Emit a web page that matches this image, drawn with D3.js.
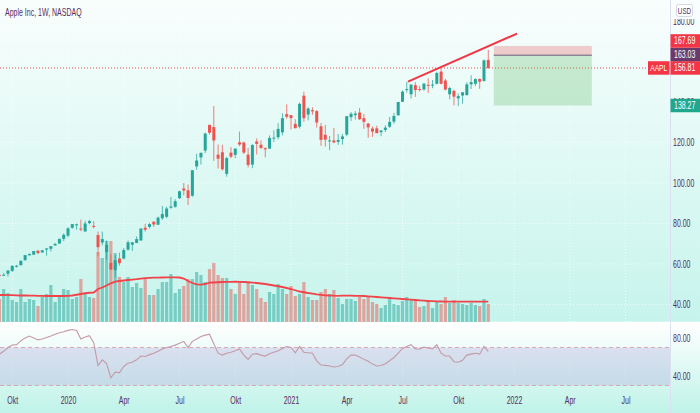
<!DOCTYPE html>
<html>
<head>
<meta charset="utf-8">
<script src="https://cdnjs.cloudflare.com/ajax/libs/d3/7.8.5/d3.min.js"></script>
<style>
  html, body { margin: 0; padding: 0; background: #fff; }
  svg { display: block; font-family: "Liberation Sans", Arial, sans-serif; }
</style>
</head>
<body>
<svg width="700" height="413"></svg>
<script>
// weekly bars, Monday of the first and last week
const firstWeek = "2019-09-16";
const lastWeek = "2021-11-22";

const open = [54.6, 54.7, 55.2, 56.6, 58.7, 59.4, 61.9, 64.3, 64.6, 66.5,
  65.7, 67.1, 67.5, 69.2, 70.1, 72.4, 74.0, 77.9, 79.3, 77.5,
  76.1, 80.2, 78.8, 74.3, 70.6, 65.9, 60.5, 57.0, 62.7, 62.7,
  67.1, 69.5, 70.4, 71.6, 77.9, 78.3, 80.9, 79.4, 82.6, 83.3,
  87.8, 88.3, 92.5, 97.3, 96.4, 93.7, 108.2, 112.6, 116.0, 128.7,
  127.6, 114.0, 115.2, 104.5, 115.0, 113.9, 120.1, 120.0, 114.0, 109.1,
  120.5, 118.9, 117.2, 117.0, 122.3, 122.6, 125.0, 134.0, 133.5, 129.2,
  127.8, 143.1, 133.8, 136.0, 135.5, 128.0, 123.8, 120.9, 121.0, 120.3,
  121.7, 123.9, 132.5, 133.5, 134.8, 132.0, 129.4, 126.9, 127.0, 125.1,
  126.2, 127.8, 130.3, 133.4, 140.1, 146.2, 143.8, 148.3, 146.4, 146.2,
  148.5, 148.3, 149.0, 155.0, 150.6, 143.8, 145.5, 141.8, 143.2, 143.4,
  148.7, 149.0, 151.4, 150.4, 160.8];
const high = [55.9, 55.6, 56.9, 59.4, 59.5, 61.7, 64.4, 65.1, 66.4, 67.0,
  66.8, 67.7, 68.8, 70.4, 72.5, 75.1, 78.2, 79.7, 80.0, 81.9,
  81.3, 81.8, 81.2, 76.0, 76.0, 71.6, 64.8, 64.6, 65.6, 67.9,
  71.6, 70.8, 73.6, 77.6, 79.9, 80.2, 81.1, 83.4, 88.7, 88.3,
  93.1, 92.0, 96.3, 100.0, 99.2, 106.4, 114.4, 115.0, 124.9, 128.8,
  138.0, 119.0, 118.8, 112.9, 117.7, 117.0, 125.4, 120.4, 117.3, 119.2,
  122.0, 121.0, 117.6, 123.5, 126.0, 129.6, 134.4, 138.8, 133.6, 131.5,
  139.7, 145.1, 137.4, 137.4, 136.0, 129.7, 128.7, 123.2, 127.2, 124.2,
  124.2, 133.0, 135.0, 135.5, 137.1, 134.1, 129.5, 127.9, 128.3, 126.2,
  128.5, 132.6, 134.6, 140.0, 145.7, 150.0, 148.7, 149.8, 148.0, 149.1,
  151.7, 150.9, 155.0, 157.3, 151.4, 147.5, 146.0, 144.2, 144.9, 149.8,
  153.2, 151.6, 151.6, 161.0, 165.7];
const low = [54.4, 54.2, 53.8, 56.1, 58.3, 59.3, 61.6, 64.2, 64.6, 64.9,
  65.6, 64.1, 66.2, 68.9, 70.1, 71.3, 73.2, 77.4, 77.0, 76.2,
  75.8, 79.6, 77.6, 64.1, 69.2, 62.0, 57.0, 53.2, 59.2, 62.3,
  66.6, 66.4, 70.3, 71.6, 76.0, 77.5, 78.3, 79.3, 81.8, 82.6,
  87.3, 87.8, 92.1, 93.9, 89.1, 93.2, 106.5, 109.1, 114.8, 123.9,
  110.9, 107.1, 106.1, 103.1, 112.2, 112.3, 118.2, 114.3, 107.7, 107.3,
  114.1, 116.8, 112.6, 116.8, 120.2, 121.5, 123.5, 131.7, 126.4, 126.9,
  126.9, 130.2, 130.9, 133.7, 127.4, 118.4, 118.0, 116.2, 119.7, 118.9,
  118.9, 123.1, 130.6, 131.3, 131.1, 126.7, 122.3, 122.8, 124.6, 123.1,
  125.2, 127.2, 129.2, 133.4, 140.0, 144.6, 141.7, 142.5, 145.2, 145.6,
  144.5, 146.8, 148.6, 148.7, 145.8, 141.3, 138.3, 138.0, 139.2, 143.2,
  146.4, 147.8, 146.5, 150.1, 156.4];
const close = [54.4, 54.7, 56.75, 59.05, 59.1, 61.6, 64.4, 65.0, 66.4, 65.4,
  66.8, 67.7, 68.8, 69.9, 72.4, 74.4, 77.6, 79.7, 79.6, 77.4,
  80.0, 81.2, 78.3, 68.3, 72.3, 69.5, 57.3, 61.9, 60.4, 66.9,
  70.7, 70.7, 72.3, 77.5, 76.9, 79.7, 79.5, 82.9, 84.7, 87.4,
  88.4, 91.0, 95.9, 96.3, 92.6, 106.3, 111.1, 114.9, 124.4, 124.8,
  121.0, 112.0, 106.8, 112.3, 113.0, 117.0, 119.0, 115.0, 108.9, 118.7,
  119.3, 117.3, 116.6, 122.25, 122.4, 126.7, 132.0, 132.7, 132.05, 127.1,
  139.1, 132.0, 136.8, 135.4, 129.9, 121.3, 121.4, 121.03, 120.0, 121.2,
  123.0, 133.0, 134.2, 134.3, 131.5, 130.2, 127.45, 125.4, 124.6, 125.9,
  127.35, 130.15, 133.1, 140.0, 145.1, 146.4, 148.6, 145.9, 146.1, 149.1,
  148.2, 148.6, 154.3, 149.0, 146.1, 146.9, 142.65, 142.9, 144.8, 148.7,
  149.8, 151.3, 150.0, 160.55, 156.81];
// weekly volume, millions of shares
const volume = [460, 660, 580, 440, 400, 660, 400, 460, 440, 320,
  500, 560, 740, 400, 500, 660, 640, 460, 500, 860,
  580, 500, 480, 1400, 1280, 1620, 1620, 1380, 900, 800,
  900, 700, 780, 680, 860, 540, 540, 660, 800, 800,
  960, 580, 660, 720, 860, 860, 1000, 940, 800, 1060,
  1180, 940, 880, 880, 660, 560, 800, 560, 800, 740,
  660, 480, 400, 600, 560, 760, 660, 560, 720, 520,
  560, 800, 500, 440, 440, 600, 660, 560, 640, 480,
  360, 460, 460, 420, 500, 460, 500, 400, 360, 280,
  340, 460, 360, 340, 420, 500, 440, 420, 300, 320,
  440, 280, 400, 360, 500, 380, 440, 380, 360, 340,
  380, 340, 320, 460, 360];
const volumeMA = [540, 540, 538, 536, 534, 530, 530, 528, 526, 524,
  522, 520, 520, 520, 520, 520, 522, 530, 545, 560,
  575, 585, 590, 660, 690, 730, 774, 806, 820, 830,
  840, 848, 856, 866, 876, 884, 886, 888, 890, 892,
  893, 894, 890, 870, 820, 780, 754, 746, 760, 786,
  790, 795, 800, 802, 804, 806, 804, 800, 795, 788,
  780, 770, 760, 745, 730, 715, 700, 680, 660, 635,
  610, 595, 580, 567, 554, 544, 534, 530, 526, 524,
  526, 526, 526, 524, 522, 520, 514, 507, 500, 493,
  487, 480, 473, 467, 460, 453, 447, 440, 433, 427,
  420, 417, 413, 410, 408, 407, 406, 406, 406, 406,
  406, 406, 406, 406, 406];
const rsi = [63, 66, 70, 72.6, 73, 77, 80, 82, 80, 78,
  79, 80.5, 82, 84, 85.5, 86.5, 88, 89, 88, 79,
  81, 82.5, 75, 51, 57, 53, 38, 44, 43.5, 50,
  53.5, 54.5, 57, 61, 60.5, 62.5, 64, 66, 68.5, 70,
  71, 72.5, 74.5, 76.5, 70, 76.5, 79, 81.5, 83, 84,
  74, 64, 62, 64, 65, 66.5, 68.5, 62, 57.5, 63,
  63.5, 62, 61, 63.5, 65, 66.5, 69, 71, 70, 64.5,
  71, 65, 64.5, 64, 56, 51.5, 51.2, 50.5, 49.5, 50,
  52, 58, 62, 62, 60, 57.5, 55.5, 52.5, 50.5, 51,
  53, 56, 59.5, 64, 69, 71, 73, 68.5, 68.5, 70.5,
  69.5, 68.5, 73, 64, 61, 61, 55, 54.5, 56.5, 62,
  63, 64, 63, 71, 66];

const priceTicks = [40, 60, 80, 100, 120, 140, 160, 180];
const rsiTicks = [40, 80];
const rsiBand = [70, 30];
const timeTicks = ["2019-10-07", "2020-01-06", "2020-04-06", "2020-07-06", "2020-10-05", "2021-01-04",
  "2021-04-05", "2021-07-05", "2021-10-04", "2022-01-03", "2022-04-04", "2022-07-04"];
const timeLabels = ["Okt", "2020", "Apr", "Jul", "Okt", "2021", "Apr", "Jul", "Okt", "2022", "Apr", "Jul"];

// drawings on the chart
const lastPrice = 156.81;
const trendDates = ["2021-07-14", "2022-01-08"];
const trendPrices = [150.1, 173.8];
const positionDates = ["2021-12-01", "2022-05-10"];
const positionLevels = [167.69, 163.03, 138.27]; // stop, entry, target

const title = "Apple Inc, 1W, NASDAQ";

const svg = d3.select("svg");
const W = 700, H = 413;
const paneRight = 670;
const mainBottom = 322, rsiTop = 323, rsiBottom = 386;
const textColor = "#5a2a5e";
const upColor = "#26a69a", downColor = "#ef5350";
const squeeze = 0.7; // the chart font is a narrow one

const parse = d3.timeParse("%Y-%m-%d");
const weeks = d3.timeMonday.range(parse(firstWeek), d3.timeDay.offset(parse(lastWeek), 1));
const bars = weeks.map((d, i) => ({
    date: d, o: open[i], h: high[i], l: low[i], c: close[i],
    v: volume[i], ma: volumeMA[i], rsi: rsi[i]
}));

const x = d3.scaleTime().domain([parse("2020-01-06"), parse("2022-01-03")]).range([68, 514]);
const y = d3.scaleLinear().domain([40, 120]).range([304.5, 142.5]);
const yVol = d3.scaleLinear().domain([0, 2000]).range([mainBottom, 222]);
const yRsi = d3.scaleLinear().domain([40, 80]).range([376, 338]);

// squeeze text horizontally around its own x
function narrow(sel) {
    sel.attr("transform", function () {
        const tx = +this.getAttribute("x") || 0;
        return `translate(${tx},0) scale(${squeeze},1)`;
    }).attr("x", 0);
}

// backgrounds
const defs = svg.append("defs");
function gradient(id, c0, c1) {
    const g = defs.append("linearGradient").attr("id", id)
        .attr("x1", 0).attr("y1", 0).attr("x2", 0).attr("y2", 1);
    g.append("stop").attr("offset", "0%").attr("stop-color", c0);
    g.append("stop").attr("offset", "100%").attr("stop-color", c1);
}
gradient("bgMain", "#f9fefd", "#c6f4ec");
gradient("bgLower", "#ffffff", "#bff3e8");
defs.append("clipPath").attr("id", "clipMain")
    .append("rect").attr("x", 0).attr("y", 0).attr("width", paneRight).attr("height", mainBottom);
defs.append("clipPath").attr("id", "clipRsi")
    .append("rect").attr("x", 0).attr("y", rsiTop).attr("width", paneRight).attr("height", rsiBottom - rsiTop);

svg.append("rect").attr("width", W).attr("height", mainBottom).attr("fill", "url(#bgMain)");
svg.append("rect").attr("y", rsiTop).attr("width", W).attr("height", H - rsiTop).attr("fill", "url(#bgLower)");
svg.append("line").attr("x1", 0).attr("x2", W).attr("y1", mainBottom + 0.5).attr("y2", mainBottom + 0.5)
    .attr("stroke", "#ffffff").attr("stroke-width", 1.5);

// faint grid
const grid = svg.append("g").attr("stroke", "#ffffff").attr("stroke-opacity", 0.7).attr("stroke-dasharray", "1,2");
grid.selectAll("line.v").data(timeTicks).join("line")
    .attr("x1", d => x(parse(d))).attr("x2", d => x(parse(d)))
    .attr("y1", 0).attr("y2", rsiBottom);
grid.selectAll("line.h").data(priceTicks).join("line")
    .attr("x1", 0).attr("x2", paneRight)
    .attr("y1", d => y(d)).attr("y2", d => y(d));

// price axis separator
svg.append("line").attr("x1", paneRight + 0.5).attr("x2", paneRight + 0.5).attr("y1", 0).attr("y2", H)
    .attr("stroke", "#dcdff0");

const main = svg.append("g").attr("clip-path", "url(#clipMain)");

// volume
main.append("g").selectAll("rect").data(bars).join("rect")
    .attr("x", d => x(d.date) - 1.6)
    .attr("width", 3.2)
    .attr("y", d => yVol(d.v))
    .attr("height", d => mainBottom - yVol(d.v))
    .attr("fill", d => d.c >= d.o ? upColor : downColor)
    .attr("fill-opacity", 0.5);

main.append("path").datum(bars)
    .attr("fill", "none").attr("stroke", "#f0434a").attr("stroke-width", 1.8)
    .attr("d", d3.line().x(d => x(d.date)).y(d => yVol(d.ma)));

// candles
const candle = main.append("g").selectAll("g").data(bars).join("g");
candle.append("line")
    .attr("x1", d => x(d.date)).attr("x2", d => x(d.date))
    .attr("y1", d => y(d.h)).attr("y2", d => y(d.l))
    .attr("stroke", d => d.c >= d.o ? upColor : downColor)
    .attr("stroke-opacity", 0.75);
candle.append("rect")
    .attr("x", d => x(d.date) - 1.5)
    .attr("width", 3)
    .attr("y", d => y(Math.max(d.o, d.c)))
    .attr("height", d => Math.max(1, Math.abs(y(d.o) - y(d.c))))
    .attr("fill", d => d.c >= d.o ? upColor : downColor);

// last price line
main.append("line").attr("x1", 0).attr("x2", paneRight)
    .attr("y1", y(lastPrice)).attr("y2", y(lastPrice))
    .attr("stroke", downColor).attr("stroke-dasharray", "1,2");

// short position tool
const px0 = x(parse(positionDates[0])), px1 = x(parse(positionDates[1]));
main.append("rect").attr("x", px0).attr("width", px1 - px0)
    .attr("y", y(positionLevels[0])).attr("height", y(positionLevels[1]) - y(positionLevels[0]))
    .attr("fill", "#e57373").attr("fill-opacity", 0.35);
main.append("rect").attr("x", px0).attr("width", px1 - px0)
    .attr("y", y(positionLevels[1])).attr("height", y(positionLevels[2]) - y(positionLevels[1]))
    .attr("fill", "#4caf50").attr("fill-opacity", 0.25);
main.append("line").attr("x1", px0).attr("x2", px1)
    .attr("y1", y(positionLevels[1])).attr("y2", y(positionLevels[1]))
    .attr("stroke", "#8b8598").attr("stroke-width", 1.5);

// trend line
main.append("line")
    .attr("x1", x(parse(trendDates[0]))).attr("y1", y(trendPrices[0]))
    .attr("x2", x(parse(trendDates[1]))).attr("y2", y(trendPrices[1]))
    .attr("stroke", "#f23645").attr("stroke-width", 2);

// RSI pane
const lower = svg.append("g").attr("clip-path", "url(#clipRsi)");
lower.append("rect").attr("x", 0).attr("width", paneRight)
    .attr("y", yRsi(rsiBand[0])).attr("height", yRsi(rsiBand[1]) - yRsi(rsiBand[0]))
    .attr("fill", "#7e57c2").attr("fill-opacity", 0.17);
lower.selectAll("line.band").data(rsiBand).join("line")
    .attr("x1", 0).attr("x2", paneRight)
    .attr("y1", d => yRsi(d)).attr("y2", d => yRsi(d))
    .attr("stroke", "#dba9b5").attr("stroke-dasharray", "4,3");
lower.append("path").datum(bars)
    .attr("fill", "none").attr("stroke", "#c49aa6").attr("stroke-width", 1.1)
    .attr("d", d3.line().x(d => x(d.date)).y(d => yRsi(d.rsi)));

// axes
function styleAxis(g) {
    g.select(".domain").remove();
    g.selectAll("text").attr("fill", textColor).style("font-size", "10px").call(narrow);
}
svg.append("g").attr("transform", `translate(${paneRight + 3},0)`)
    .call(d3.axisRight(y).tickValues(priceTicks).tickFormat(d3.format(".2f")).tickSize(0).tickPadding(0))
    .call(styleAxis);
svg.append("g").attr("transform", `translate(${paneRight + 3},0)`)
    .call(d3.axisRight(yRsi).tickValues(rsiTicks).tickFormat(d3.format(".2f")).tickSize(0).tickPadding(0))
    .call(styleAxis);
svg.append("g").attr("transform", "translate(0,397)")
    .call(d3.axisBottom(x).tickValues(timeTicks.map(parse)).tickFormat((d, i) => timeLabels[i]).tickSize(0).tickPadding(0))
    .call(styleAxis);

// currency box, its backing hides the top of the highest tick
svg.append("rect").attr("x", paneRight + 1).attr("y", 0).attr("width", W - paneRight - 1).attr("height", 19)
    .attr("fill", "#f8fefd");
svg.append("rect").attr("x", 676.5).attr("y", 4.5).attr("width", 16).attr("height", 12).attr("rx", 2)
    .attr("fill", "#ffffff").attr("stroke", "#d6d8e4");
svg.append("text").attr("x", 684.5).attr("y", 13.8).attr("text-anchor", "middle")
    .attr("fill", textColor).style("font-size", "9px").text("USD").call(narrow);

// price labels, pushed up where they would overlap
const labelH = 13.5;
const priceLabels = [
    { value: positionLevels[2], color: "#22a78f" },
    { value: lastPrice, color: "#f23645" },
    { value: positionLevels[1], color: "#6b3a6c" },
    { value: positionLevels[0], color: "#f23645" }
];
let prevY = Infinity;
priceLabels.forEach(d => {
    d.y = Math.min(y(d.value), prevY - labelH);
    prevY = d.y;
});
const label = svg.append("g").selectAll("g").data(priceLabels).join("g");
label.append("rect").attr("x", paneRight + 0.5).attr("width", W - paneRight)
    .attr("y", d => d.y - labelH / 2).attr("height", labelH)
    .attr("fill", d => d.color);
label.append("text").attr("x", paneRight + 4).attr("y", d => d.y).attr("dy", "0.34em")
    .attr("fill", "#ffffff").style("font-size", "10px")
    .text(d => d3.format(".2f")(d.value))
    .call(narrow);

// symbol tag on the last price
svg.append("rect").attr("x", 648).attr("width", 21.5)
    .attr("y", y(lastPrice) - labelH / 2).attr("height", labelH).attr("fill", "#f23645");
svg.append("text").attr("x", 658.7).attr("y", y(lastPrice)).attr("dy", "0.34em").attr("text-anchor", "middle")
    .attr("fill", "#ffffff").style("font-size", "9.5px").text("AAPL").call(narrow);

svg.append("text").attr("x", 5).attr("y", 16)
    .attr("fill", textColor).style("font-size", "10px").text(title).call(narrow);
</script>
</body>
</html>
